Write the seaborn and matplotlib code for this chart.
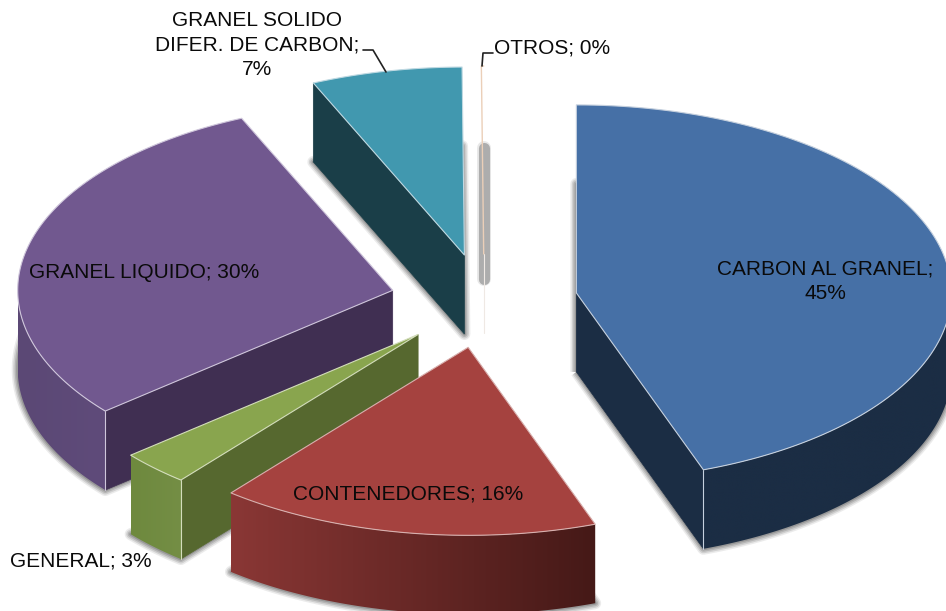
import numpy as np
import matplotlib
matplotlib.use('Agg')

import matplotlib.pyplot as plt
import seaborn as sns
from matplotlib.colors import LinearSegmentedColormap
from matplotlib.patches import Polygon

# ================= DATA =================
categories = ["CARBON AL GRANEL", "CONTENEDORES", "GENERAL", "GRANEL LIQUIDO",
              "GRANEL SOLIDO DIFER. DE CARBON", "OTROS"]
shares = [44.5, 16.4, 3.0, 29.5, 6.5, 0.1]
label_texts = ["CARBON AL GRANEL;\n45%", "CONTENEDORES; 16%", "GENERAL; 3%",
               "GRANEL LIQUIDO; 30%", "GRANEL SOLIDO\nDIFER. DE CARBON;\n7%", "OTROS; 0%"]

# ================= STYLE =================
sns.set_theme(style="white")
plt.rcParams['font.family'] = ['Liberation Sans', 'DejaVu Sans']

top_colors = sns.color_palette(["#4670A6", "#A5423F", "#89A54E", "#71588F", "#4198AF", "#EBCFB8"])
cut_colors = ["#1B2D44", "#6B2A28", "#56682F", "#402F52", "#1A3E48", "#EFE9E4"]
wall_left = ["#1B2D44", "#8A3735", "#6E893E", "#5B4875", "#1A3E48", "#EFE9E4"]
wall_right = ["#1B2D44", "#451917", "#748E45", "#5F4B7A", "#1A3E48", "#EFE9E4"]
edge_colors = ["#C5D0DE", "#D8B0AE", "#D3DDBB", "#CFC6DB", "#BFD9E2", "#EBCFB8"]

# layout of the projected pie, in pixels
cx, cy = 484, 301
rx, ry = 375, 188
depth = 79
explode = 0.25

label_pos = [(825, 281), (408, 494), (81, 561), (144, 272), (257, 45), (552, 48)]

fig = plt.figure(figsize=(9.46, 6.11), dpi=100)
ax = fig.add_axes([0, 0, 1, 1])
ax.set_xlim(0, 946)
ax.set_ylim(611, 0)
ax.axis('off')


def arc(x0, y0, t0, t1, n=120):
    t = np.radians(np.linspace(t0, t1, n))
    return x0 + rx * np.sin(t), y0 - ry * np.cos(t)


def draw_shadow(xs, ys, z=1):
    for r, a in [(6, 0.10), (4.5, 0.16), (3, 0.2), (1.5, 0.25)]:
        ax.fill(xs, ys, facecolor='none', edgecolor='#444444', alpha=a,
                lw=2 * r * 0.72, joinstyle='round', zorder=z)


# ================= SLICES =================
edges = np.concatenate([[0], np.cumsum(shares)]) / np.sum(shares) * 360
slices = []
for i in range(len(shares)):
    mid = np.radians((edges[i] + edges[i + 1]) / 2)
    ax0 = cx + explode * rx * np.sin(mid)
    ay0 = cy - explode * ry * np.cos(mid)
    slices.append((ay0, i, ax0))

# back slices first
z = 2
for ay0, i, ax0 in sorted(slices):
    t0, t1 = edges[i], edges[i + 1]
    xa, ya = arc(ax0, ay0, t0, t1)
    top_x = np.r_[ax0, xa]
    top_y = np.r_[ay0, ya]

    if categories[i] == "OTROS":
        # nearly empty slice: only the soft shadow bar is really visible
        keep = 0.73
        bar_y = [ya[0] + depth + 3, ya[0] + depth + keep * ry - 3]
        ax.plot([ax0, ax0], bar_y, color='#666666', alpha=0.15, lw=10,
                solid_capstyle='round', zorder=z)
        ax.plot([ax0, ax0], bar_y, color='#666666', alpha=0.45, lw=8,
                solid_capstyle='round', zorder=z)
        ax.plot([ax0, ax0], [ay0, ay0 + depth], color=cut_colors[i], lw=0.8, zorder=z + 1)
        ax.plot(top_x, top_y, color=top_colors[i], lw=1.0, zorder=z + 1)
        z += 3
        continue

    draw_shadow(top_x, top_y + depth, z=z)
    z += 1

    # radial walls, only the ones turned to the viewer
    if np.sin(np.radians(t0)) < 0:
        ax.fill([ax0, xa[0], xa[0], ax0], [ay0, ya[0], ya[0] + depth, ay0 + depth],
                color=cut_colors[i], lw=0.5, zorder=z)
    if np.sin(np.radians(t1)) > 0:
        ax.fill([ax0, xa[-1], xa[-1], ax0], [ay0, ya[-1], ya[-1] + depth, ay0 + depth],
                color=cut_colors[i], lw=0.5, zorder=z)
    z += 1

    # outer wall, gradient clipped to the wall shape
    ang0, ang1 = max(t0, 90), min(t1, 270)
    if ang1 > ang0:
        wx, wy = arc(ax0, ay0, ang0, ang1, 90)
        cmap = LinearSegmentedColormap.from_list("wall", [wall_left[i], wall_right[i]])
        im = ax.imshow(np.linspace(0, 1, 256).reshape(1, -1), cmap=cmap, aspect='auto',
                       extent=(wx.min(), wx.max(), wy.max() + depth, wy.min()),
                       interpolation='bilinear', zorder=z)
        wall = Polygon(np.c_[np.r_[wx, wx[::-1]], np.r_[wy, wy[::-1] + depth]],
                       closed=True, transform=ax.transData)
        im.set_clip_path(wall)
    z += 1

    # vertical edges in front
    for t, xe, ye in [(t0, xa[0], ya[0]), (t1, xa[-1], ya[-1])]:
        if np.cos(np.radians(t)) < 0.3 and (t == t0 and np.sin(np.radians(t)) < 0 or t == t1 and np.sin(np.radians(t)) > 0):
            ax.plot([xe, xe], [ye, ye + depth], color=edge_colors[i], lw=0.8, zorder=z)
    z += 1

    ax.fill(top_x, top_y, facecolor=top_colors[i], edgecolor=edge_colors[i],
            lw=0.8, joinstyle='round', zorder=z)
    z += 1

ax.set_xlim(0, 946)
ax.set_ylim(611, 0)

# ================= LABELS =================
for text, (x, y) in zip(label_texts, label_pos):
    ax.text(x, y, text, ha='center', va='center', fontsize=15, color='#0a0a0a',
            linespacing=1.38, zorder=z + 1)

# leader lines
ax.plot([363, 373, 386], [50, 50, 72], color='#222222', lw=1.2, zorder=z)
ax.plot([493, 483, 482], [53, 53, 66], color='#222222', lw=1.2, zorder=z)

plt.savefig("out.png", dpi=100)
plt.close()
